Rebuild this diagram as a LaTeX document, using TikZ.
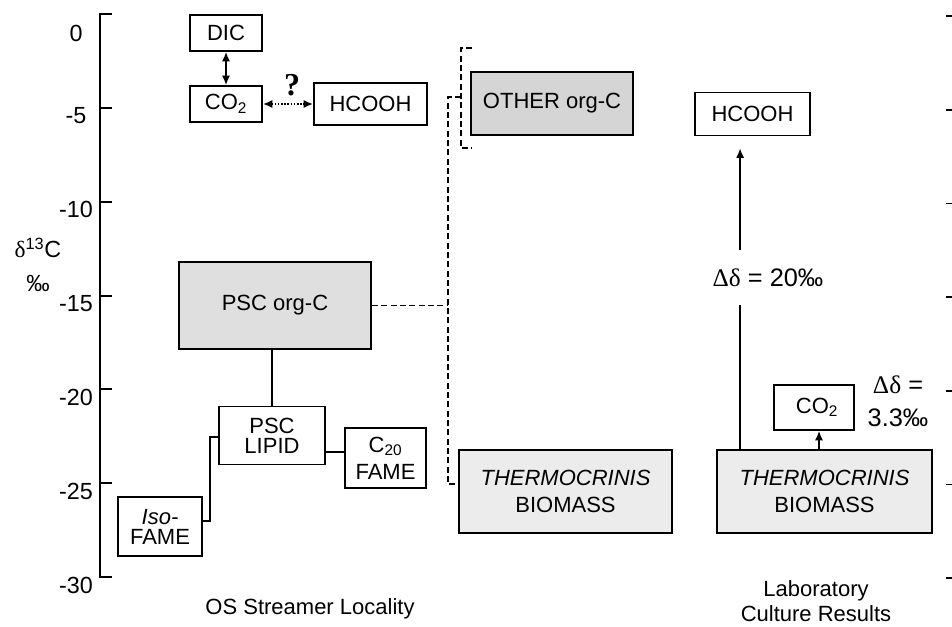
\documentclass[tikz,border=0pt]{standalone}
\usepackage{fontspec}
\setmainfont{Liberation Sans}
\newfontfamily\serifgk{Liberation Serif}
\usetikzlibrary{arrows.meta,calc}

\begin{document}
\begin{tikzpicture}[x=0.75pt, y=-0.75pt,
    font=\fontsize{16.5}{20}\selectfont,
    box/.style={draw, rectangle, line width=1.4pt, inner sep=0pt, align=center},
    org/.style={box, fill=gray!25},
    link/.style={line width=1.1pt},
    dashlink/.style={line width=1.1pt, dash pattern=on 4.5pt off 2.5pt},
    arrow/.style={-{Latex[length=7pt,width=6pt]}, line width=1.1pt},
    darrow/.style={{Latex[length=7pt,width=6pt]}-{Latex[length=7pt,width=6pt]}, line width=1.1pt},
    ticklab/.style={font=\fontsize{17.5}{20}\selectfont},
    biglab/.style={font=\fontsize{19}{22}\selectfont}
]
    \useasboundingbox (0,0) rectangle (952,626);

    % axes
    \draw[line width=1.5pt] (112,14) -- (100,14) -- (100,577) -- (112,577);
    \foreach \v [count=\i from 0] in {0,-5,-10,-15,-20,-25,-30} {
        \draw[line width=1.5pt] (100,14+\i*93.83) -- (112,14+\i*93.83);
        \ifnum\i=0 \node[ticklab] (tick\i) at (76,33) {\v};
        \else \node[ticklab] (tick\i) at (76,22+\i*93.83) {\v}; \fi
        \draw[line width=1.2pt] (946,16+\i*93.7) -- (952,16+\i*93.7);
    }
    \node[ticklab] (ylab) at (38,248) {{\serifgk δ}\textsuperscript{13}C};
    \node[ticklab] (yunit) at (38,283) {‰};

    % OS streamer locality
    \node[box, minimum width=54pt, minimum height=27pt] (dic) at (226,33) {DIC};
    \node[box, minimum width=54pt, minimum height=27pt] (co2) at (226,104) {CO\textsubscript{2}};
    \node[box, minimum width=84.75pt, minimum height=31.5pt] (hcoohL) at (370.5,104) {HCOOH};
    \node[org, fill=gray!33, minimum width=121.5pt, minimum height=47.25pt] (other) at (552,103.5) {OTHER org-C};
    \node[org, minimum width=144pt, minimum height=65.25pt] (psc) at (275,305.5) {PSC org-C};
    \node[box, minimum width=79.5pt, minimum height=43.5pt] (lipid) at (272,435.5) {PSC\\[-5pt]LIPID};
    \node[box, minimum width=60.75pt, minimum height=45pt] (cfame) at (385.5,458) {C\textsubscript{20}\\FAME};
    \node[box, minimum width=63pt, minimum height=44.25pt] (iso) at (160,526.5) {\textit{Iso-}\\[-5pt]FAME};
    \node[org, fill=gray!15, minimum width=159.75pt, minimum height=62.25pt] (thermoL) at (565.5,491.5) {\textit{THERMOCRINIS}\\BIOMASS};

    \draw[darrow] (dic) -- (co2);
    \draw[darrow, line width=1.3pt, dash pattern=on 1.2pt off 1.2pt] (co2) -- (hcoohL);
    \node[font=\serifgk\bfseries\fontsize{24}{24}\selectfont] (qmark) at (292,85) {?};

    \draw[link] (lipid.north) -- (lipid.north |- psc.south);
    \draw[link] ($(lipid.east)+(0,16.5)$) coordinate (lc) -- (lc -| cfame.west);
    \draw[link] ($(iso.east)+(0,-5.5)$) -- ++(7,0) |- ($(lipid.west)+(0,1.5)$);

    \coordinate (bkt) at (448,305.5);
    \coordinate (bktT) at (448,97);
    \coordinate (bktB) at (448,484);
    \draw[dashlink] (psc.east) -- (bkt);
    \draw[dashlink] (461,97) -- (bktT) -- (bktB) -- (bktB -| thermoL.west);
    \draw[dashlink] (472,48) -| (461,148) -- (472,148);

    \node (osl) at (310,609) {OS Streamer Locality};

    % laboratory culture
    \node[org, fill=gray!15, minimum width=161.25pt, minimum height=62.25pt] (thermoR) at (824.5,491.5) {\textit{THERMOCRINIS}\\BIOMASS};
    \node[box, minimum width=60pt, minimum height=33.75pt] (co2R) at (814,407.5) {\ CO\textsubscript{2}};
    \node[box, minimum width=86.25pt, minimum height=32.25pt] (hcoohR) at (752.5,114) {HCOOH};

    \node[biglab, minimum height=41.25pt, inner sep=0pt] (dlab) at (768,277.5) {{\serifgk Δδ} = 20‰};
    \coordinate (rb) at ($(thermoR.north west)+(24,0)$);
    \draw[link] (rb) -- (rb |- dlab.south);
    \draw[arrow, shorten >=9pt] (rb |- dlab.north) -- (rb |- hcoohR.south);

    \coordinate (c2) at ($(co2R.south)+(5,0)$);
    \draw[arrow] (thermoR.north -| c2) -- (c2);
    \node[biglab, align=center] (dco2) at (898,401) {{\serifgk Δδ} =\\[3pt]3.3‰};

    \node[align=center, inner sep=1pt] (lab) at (816,601) {Laboratory\\[-1.5pt]Culture Results};
\end{tikzpicture}
\end{document}
